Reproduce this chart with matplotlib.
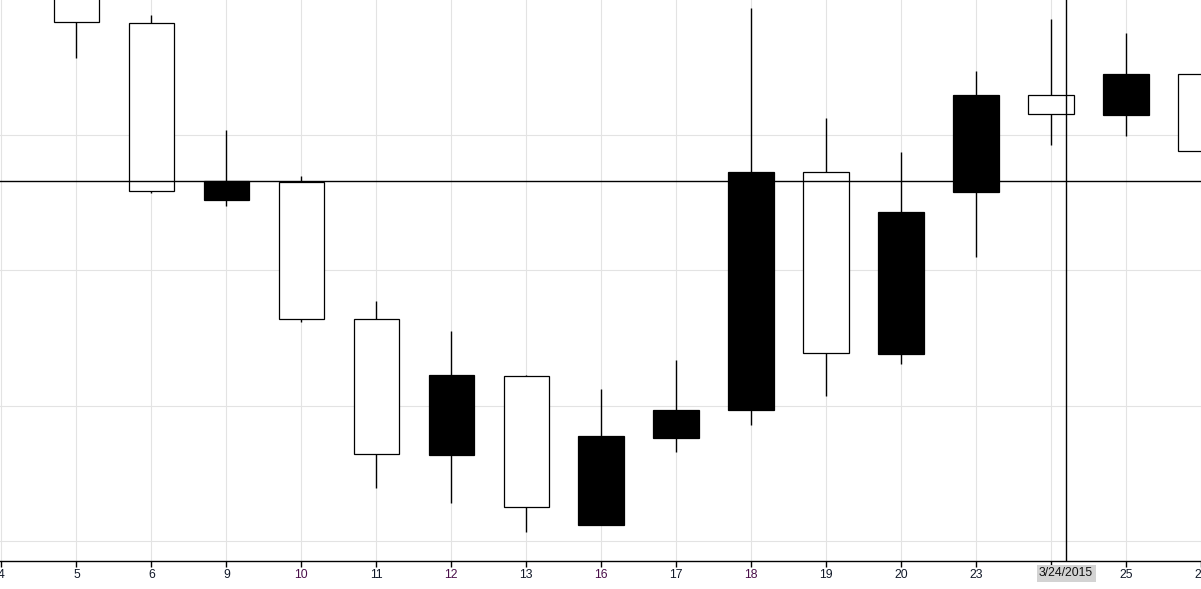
import numpy as np
import matplotlib.pyplot as plt

# daily bars, March 2015 (prices)
days = ["4", "5", "6", "9", "10", "11", "12", "13", "16", "17",
        "18", "19", "20", "23", "24", "25", "26"]
opens = [np.nan, 41.917, 41.293, 41.330, 40.819, 40.322, 40.612, 40.125, 40.388, 40.484,
         41.364, 40.694, 41.216, 41.648, 41.577, 41.726, 41.441]
highs = [np.nan, 42.100, 41.944, 41.519, 41.349, 40.887, 40.776, 40.612, 40.562, 40.669,
         41.970, 41.563, 41.438, 41.737, 41.929, 41.877, 41.725]
lows = [np.nan, 41.786, 41.287, 41.238, 40.809, 40.197, 40.142, 40.034, 40.060, 40.330,
        40.429, 40.536, 40.655, 41.051, 41.465, 41.497, 41.441]
closes = [np.nan, 42.050, 41.914, 41.260, 41.329, 40.819, 40.319, 40.609, 40.060, 40.381,
          40.485, 41.363, 40.692, 41.291, 41.647, 41.575, 41.725]

grid_levels = [40.0, 40.5, 41.0, 41.5]
purple_days = ["10", "12", "16", "18"]

# crosshair position
cursor_x = 14.2
cursor_price = 41.330
cursor_label = "3/24/2015"

plt.rcParams["font.family"] = ["Liberation Sans", "DejaVu Sans"]

fig = plt.figure(figsize=(12.01, 5.89), dpi=100)
ax = fig.add_axes([0, 28 / 589, 1, 561 / 589])

x = np.arange(len(days))
o = np.array(opens)
c = np.array(closes)
up = c >= o

# wicks first, bodies on top
ax.vlines(x, lows, highs, color="black", lw=1.0, zorder=2)
body_bottom = np.minimum(o, c)
body_height = np.abs(c - o)
ax.bar(x, body_height, bottom=body_bottom, width=0.607,
       color=np.where(up, "white", "black"), edgecolor="black", lw=0.9, zorder=3)

# crosshair
ax.axhline(cursor_price, color="black", lw=1.0, zorder=4)
ax.axvline(cursor_x, color="black", lw=1.0, zorder=4)

ax.set_xlim(-0.02, 15.993)
ax.set_ylim(39.926, 42.0)

ax.set_yticks(grid_levels)
ax.tick_params(axis="y", left=False, labelleft=False)
ax.set_xticks(x)
ax.set_xticklabels([d if d != "24" else "" for d in days], fontsize=8.8)
ax.tick_params(axis="x", length=4.3, width=1.0, color="black", pad=1.5)
for lbl, d in zip(ax.get_xticklabels(), days):
    lbl.set_color("#4a0f4a" if d in purple_days else "#101828")

ax.grid(True, color="#e3e3e3", lw=0.8)
ax.set_axisbelow(True)
for side in ["top", "left", "right"]:
    ax.spines[side].set_visible(False)
ax.spines["bottom"].set_linewidth(1.0)

ax.annotate(cursor_label, xy=(cursor_x, 0), xycoords=("data", "axes fraction"),
            xytext=(0, -12.5), textcoords="offset pixels", ha="center", va="center",
            fontsize=8.8, color="#101010", annotation_clip=False,
            bbox=dict(boxstyle="square,pad=0.2", fc="#d3d3d3", ec="none"))

fig.savefig("out.png", dpi=100)
